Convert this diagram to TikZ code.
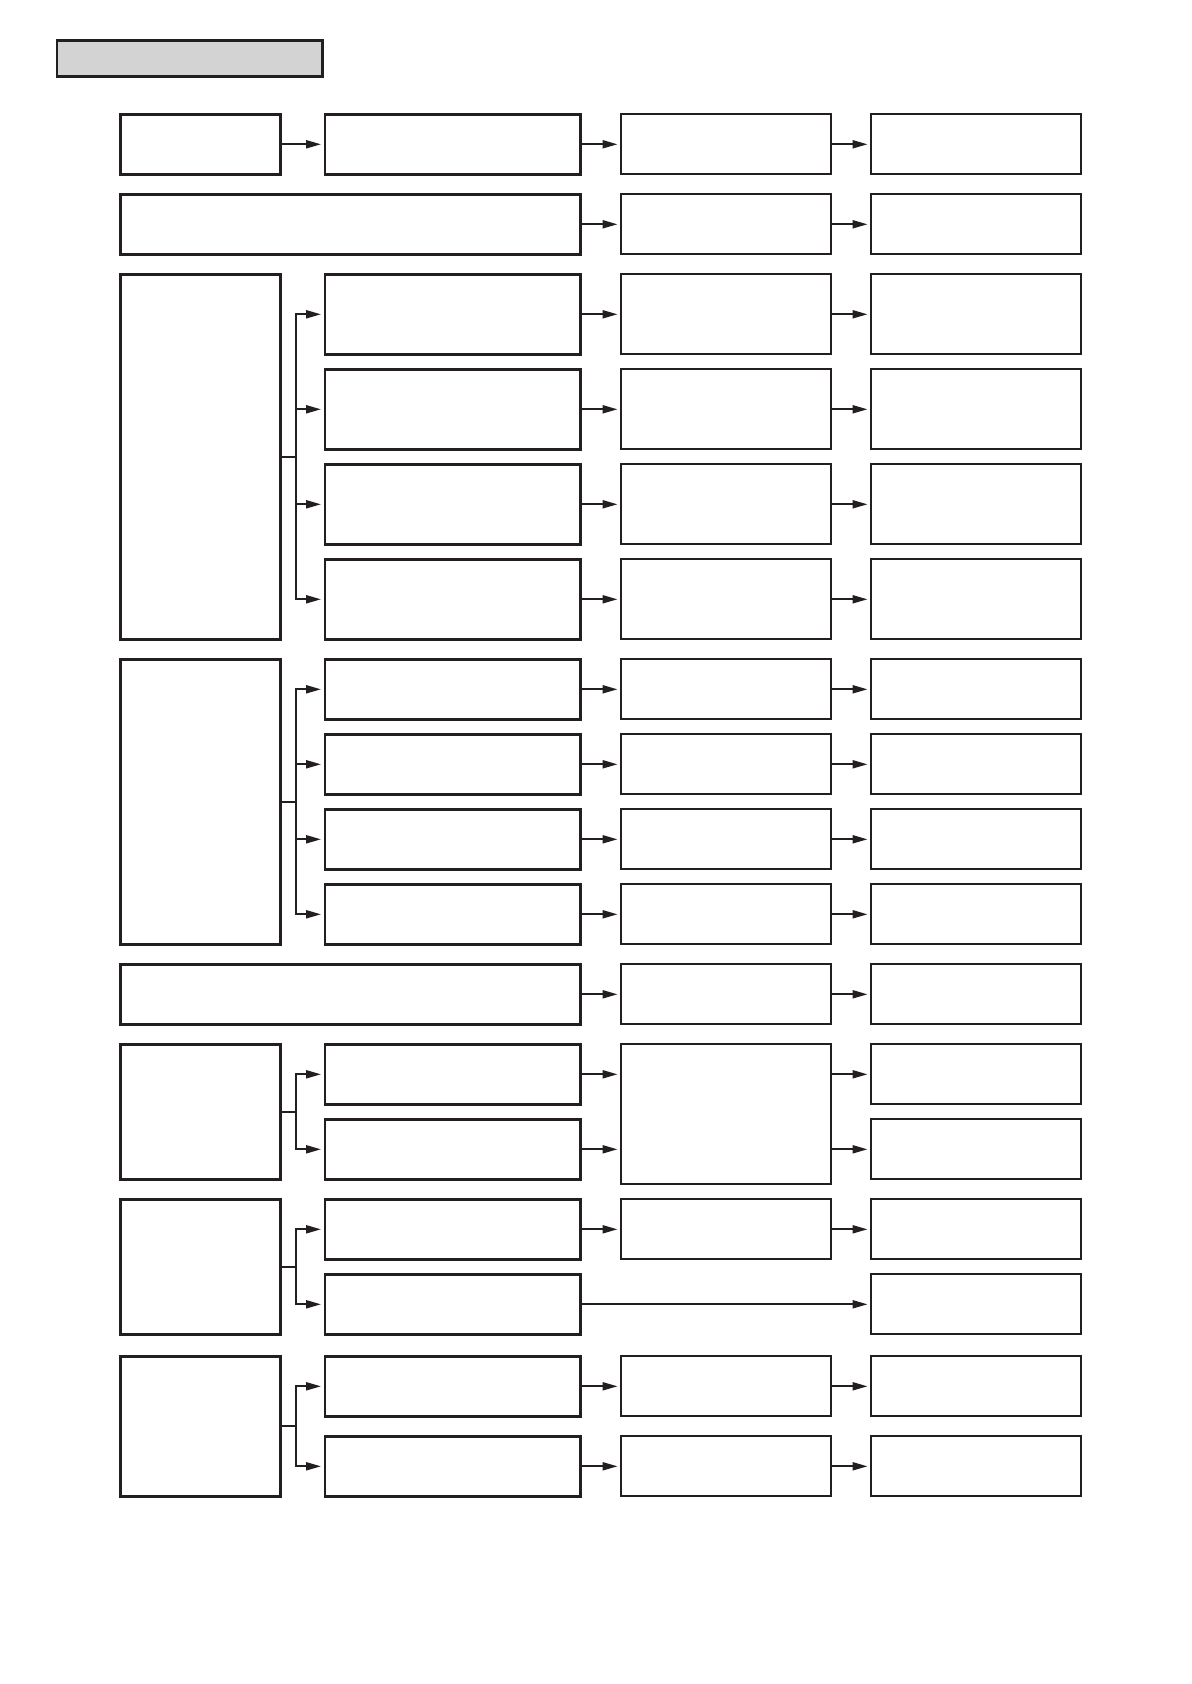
\documentclass[tikz,border=0pt]{standalone}
\usetikzlibrary{arrows.meta}
\definecolor{ink}{HTML}{231F20}
\definecolor{headgray}{HTML}{D3D3D3}
\tikzset{
  thickbox/.style={draw=ink, line width=1.35pt, inner sep=0pt},
  thinbox/.style={draw=ink, line width=0.85pt, inner sep=0pt},
  wire/.style={draw=ink, line width=1pt},
  arr/.style={wire, -{Triangle[length=7.5pt,width=4pt]}, shorten >=1.3pt}
}
% box from corner (x1,y1) to corner (x2,y2), page pixels
\newcommand{\blk}[6]{%
  \pgfmathsetmacro\bw{(#5-#3)*0.5}%
  \pgfmathsetmacro\bh{(#6-#4)*0.5}%
  \node[#1, minimum width=\bw pt, minimum height=\bh pt] (#2) at ({(#3+#5)/2},{(#4+#6)/2}) {};}
\begin{document}
\begin{tikzpicture}[x=0.5pt, y=-0.5pt]
    \useasboundingbox (0,0) rectangle (1191,1684);
    \blk{thickbox, fill=headgray}{head}{57}{40.7}{322.5}{76.3}
    % row 1
    \blk{thickbox}{a1}{120.3}{114.3}{280.7}{174.3}
    \blk{thickbox}{b1}{325}{114.3}{580.7}{174.3}
    \blk{thinbox}{c1}{621}{114.3}{831}{174.3}
    \blk{thinbox}{d1}{871}{114.3}{1080.7}{174.3}
    \draw[arr] (a1.east) -- (b1.west);
    \draw[arr] (b1.east) -- (c1.west);
    \draw[arr] (c1.east) -- (d1.west);
    % row 2
    \blk{thickbox}{w2}{120.3}{194.3}{580.7}{254.3}
    \blk{thinbox}{c2}{621}{194.3}{831}{254.3}
    \blk{thinbox}{d2}{871}{194.3}{1080.7}{254.3}
    \draw[arr] (w2.east) -- (c2.west);
    \draw[arr] (c2.east) -- (d2.west);
    % group 3
    \blk{thickbox}{a3}{120.3}{274.3}{280.7}{639.3}
    \blk{thickbox}{b31}{325}{274.3}{580.7}{354.3}
    \blk{thickbox}{b32}{325}{369.3}{580.7}{449.3}
    \blk{thickbox}{b33}{325}{464.3}{580.7}{544.3}
    \blk{thickbox}{b34}{325}{559.3}{580.7}{639.3}
    \blk{thinbox}{c31}{621}{274.3}{831}{354.3}
    \blk{thinbox}{c32}{621}{369.3}{831}{449.3}
    \blk{thinbox}{c33}{621}{464.3}{831}{544.3}
    \blk{thinbox}{c34}{621}{559.3}{831}{639.3}
    \blk{thinbox}{d31}{871}{274.3}{1080.7}{354.3}
    \blk{thinbox}{d32}{871}{369.3}{1080.7}{449.3}
    \blk{thinbox}{d33}{871}{464.3}{1080.7}{544.3}
    \blk{thinbox}{d34}{871}{559.3}{1080.7}{639.3}
    \coordinate (j3) at (295.7,456.8);
    \draw[wire] (a3.east) -- (j3);
    \draw[arr] (j3) |- (b31.west);
    \draw[arr] (j3) |- (b32.west);
    \draw[arr] (j3) |- (b33.west);
    \draw[arr] (j3) |- (b34.west);
    \draw[arr] (b31.east) -- (c31.west);
    \draw[arr] (b32.east) -- (c32.west);
    \draw[arr] (b33.east) -- (c33.west);
    \draw[arr] (b34.east) -- (c34.west);
    \draw[arr] (c31.east) -- (d31.west);
    \draw[arr] (c32.east) -- (d32.west);
    \draw[arr] (c33.east) -- (d33.west);
    \draw[arr] (c34.east) -- (d34.west);
    % group 4
    \blk{thickbox}{a4}{120.3}{659.3}{280.7}{944.3}
    \blk{thickbox}{b41}{325}{659.3}{580.7}{719.3}
    \blk{thickbox}{b42}{325}{734.3}{580.7}{794.3}
    \blk{thickbox}{b43}{325}{809.3}{580.7}{869.3}
    \blk{thickbox}{b44}{325}{884.3}{580.7}{944.3}
    \blk{thinbox}{c41}{621}{659.3}{831}{719.3}
    \blk{thinbox}{c42}{621}{734.3}{831}{794.3}
    \blk{thinbox}{c43}{621}{809.3}{831}{869.3}
    \blk{thinbox}{c44}{621}{884.3}{831}{944.3}
    \blk{thinbox}{d41}{871}{659.3}{1080.7}{719.3}
    \blk{thinbox}{d42}{871}{734.3}{1080.7}{794.3}
    \blk{thinbox}{d43}{871}{809.3}{1080.7}{869.3}
    \blk{thinbox}{d44}{871}{884.3}{1080.7}{944.3}
    \coordinate (j4) at (295.7,801.8);
    \draw[wire] (a4.east) -- (j4);
    \draw[arr] (j4) |- (b41.west);
    \draw[arr] (j4) |- (b42.west);
    \draw[arr] (j4) |- (b43.west);
    \draw[arr] (j4) |- (b44.west);
    \draw[arr] (b41.east) -- (c41.west);
    \draw[arr] (b42.east) -- (c42.west);
    \draw[arr] (b43.east) -- (c43.west);
    \draw[arr] (b44.east) -- (c44.west);
    \draw[arr] (c41.east) -- (d41.west);
    \draw[arr] (c42.east) -- (d42.west);
    \draw[arr] (c43.east) -- (d43.west);
    \draw[arr] (c44.east) -- (d44.west);
    % row 5
    \blk{thickbox}{w5}{120.3}{964.3}{580.7}{1024.3}
    \blk{thinbox}{c5}{621}{964.3}{831}{1024.3}
    \blk{thinbox}{d5}{871}{964.3}{1080.7}{1024.3}
    \draw[arr] (w5.east) -- (c5.west);
    \draw[arr] (c5.east) -- (d5.west);
    % group 6
    \blk{thickbox}{a6}{120.3}{1044.3}{280.7}{1179.3}
    \blk{thickbox}{b61}{325}{1044.3}{580.7}{1104.3}
    \blk{thickbox}{b62}{325}{1119.3}{580.7}{1179.3}
    \blk{thinbox}{c6}{621}{1044.3}{831}{1184.3}
    \blk{thinbox}{d61}{871}{1044.3}{1080.7}{1104.3}
    \blk{thinbox}{d62}{871}{1119.3}{1080.7}{1179.3}
    \coordinate (j6) at (295.7,1111.8);
    \draw[wire] (a6.east) -- (j6);
    \draw[arr] (j6) |- (b61.west);
    \draw[arr] (j6) |- (b62.west);
    \draw[arr] (b61.east) -- (b61.east -| c6.west);
    \draw[arr] (b62.east) -- (b62.east -| c6.west);
    \draw[arr] (d61.west -| c6.east) -- (d61.west);
    \draw[arr] (d62.west -| c6.east) -- (d62.west);
    % group 7
    \blk{thickbox}{a7}{120.3}{1199.3}{280.7}{1334.3}
    \blk{thickbox}{b71}{325}{1199.3}{580.7}{1259.3}
    \blk{thickbox}{b72}{325}{1274.3}{580.7}{1334.3}
    \blk{thinbox}{c71}{621}{1199.3}{831}{1259.3}
    \blk{thinbox}{d71}{871}{1199.3}{1080.7}{1259.3}
    \blk{thinbox}{d72}{871}{1274.3}{1080.7}{1334.3}
    \coordinate (j7) at (295.7,1266.8);
    \draw[wire] (a7.east) -- (j7);
    \draw[arr] (j7) |- (b71.west);
    \draw[arr] (j7) |- (b72.west);
    \draw[arr] (b71.east) -- (c71.west);
    \draw[arr] (c71.east) -- (d71.west);
    \draw[arr] (b72.east) -- (d72.west);
    % group 8
    \blk{thickbox}{a8}{120.3}{1356.3}{280.7}{1496.3}
    \blk{thickbox}{b81}{325}{1356.3}{580.7}{1416.3}
    \blk{thickbox}{b82}{325}{1436.3}{580.7}{1496.3}
    \blk{thinbox}{c81}{621}{1356.3}{831}{1416.3}
    \blk{thinbox}{c82}{621}{1436.3}{831}{1496.3}
    \blk{thinbox}{d81}{871}{1356.3}{1080.7}{1416.3}
    \blk{thinbox}{d82}{871}{1436.3}{1080.7}{1496.3}
    \coordinate (j8) at (295.7,1426.3);
    \draw[wire] (a8.east) -- (j8);
    \draw[arr] (j8) |- (b81.west);
    \draw[arr] (j8) |- (b82.west);
    \draw[arr] (b81.east) -- (c81.west);
    \draw[arr] (b82.east) -- (c82.west);
    \draw[arr] (c81.east) -- (d81.west);
    \draw[arr] (c82.east) -- (d82.west);
\end{tikzpicture}
\end{document}
